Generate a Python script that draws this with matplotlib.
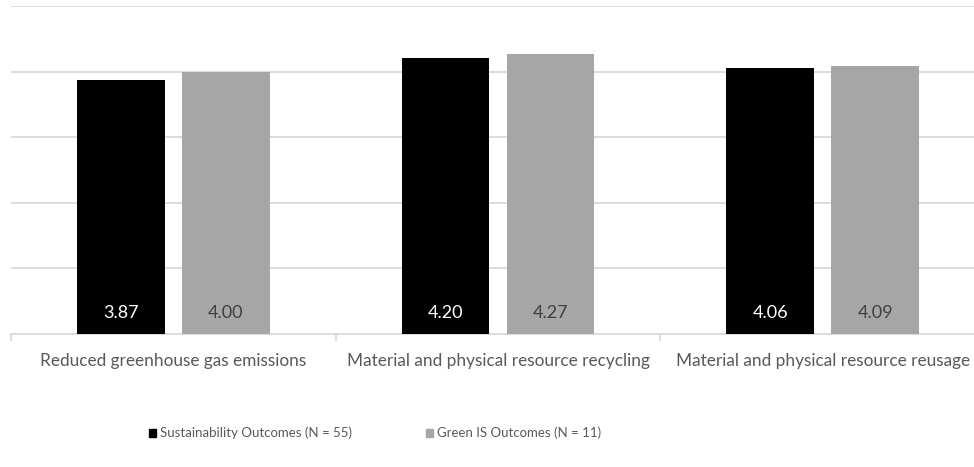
import matplotlib
matplotlib.use("Agg")
from matplotlib import pyplot as plt
from matplotlib.patches import Patch
import numpy as np

categories = ["Reduced greenhouse gas emissions",
              "Material and physical resource recycling",
              "Material and physical resource reusage"]
sustainability = [3.87, 4.20, 4.06]
green_is = [4.00, 4.27, 4.09]
series_names = ["Sustainability Outcomes (N = 55)", "Green IS Outcomes (N = 11)"]

plt.rcParams['font.family'] = ['Lato', 'DejaVu Sans']

fig = plt.figure(figsize=(9.74, 4.67), dpi=100)
ax = fig.add_axes([11/974, 1-333.5/467, 974/974, (333.5-6)/467])

x = np.arange(len(categories))
w = 0.27
off = 0.1615
b1 = ax.bar(x - off, sustainability, w, color='#000000', zorder=3)
b2 = ax.bar(x + off, green_is, w, color='#a6a6a6', zorder=3)

# value labels sit near the bottom of each bar
for r, v in zip(b1, sustainability):
    ax.text(r.get_x() + r.get_width()/2, 0.31, f"{v:.2f}", ha='center', va='center',
            color='white', fontsize=13)
for r, v in zip(b2, green_is):
    ax.text(r.get_x() + r.get_width()/2, 0.31, f"{v:.2f}", ha='center', va='center',
            color='#404040', fontsize=13)

ax.set_xlim(-0.5, 2.5)
ax.set_ylim(0, 5)
ax.set_yticks([1, 2, 3, 4, 5])
ax.yaxis.grid(True, color='#d9d9d9', linewidth=1.3, zorder=0)
ax.tick_params(axis='y', left=False, labelleft=False)
for s in ['top', 'right', 'left']:
    ax.spines[s].set_visible(False)
ax.spines['bottom'].set_color('#d9d9d9')
ax.spines['bottom'].set_linewidth(1.3)

ax.set_xticks(x)
ax.set_xticklabels(categories, fontsize=12.4, color='#595959')
ax.tick_params(axis='x', length=0, pad=14)
ax.set_xticks([-0.5, 0.5, 1.5, 2.5], minor=True)
ax.tick_params(axis='x', which='minor', length=5, color='#d9d9d9', width=1.3)

handles = [Patch(color='#000000'), Patch(color='#a6a6a6')]
fig.legend(handles, series_names, loc='center left', bbox_to_anchor=(137/974, 1-433/467),
           ncol=2, frameon=False, handlelength=0.55, handleheight=0.55,
           handletextpad=0.3, columnspacing=5.6, labelcolor='#595959',
           prop={'size': 9.5})

fig.savefig("out.png", dpi=100)
